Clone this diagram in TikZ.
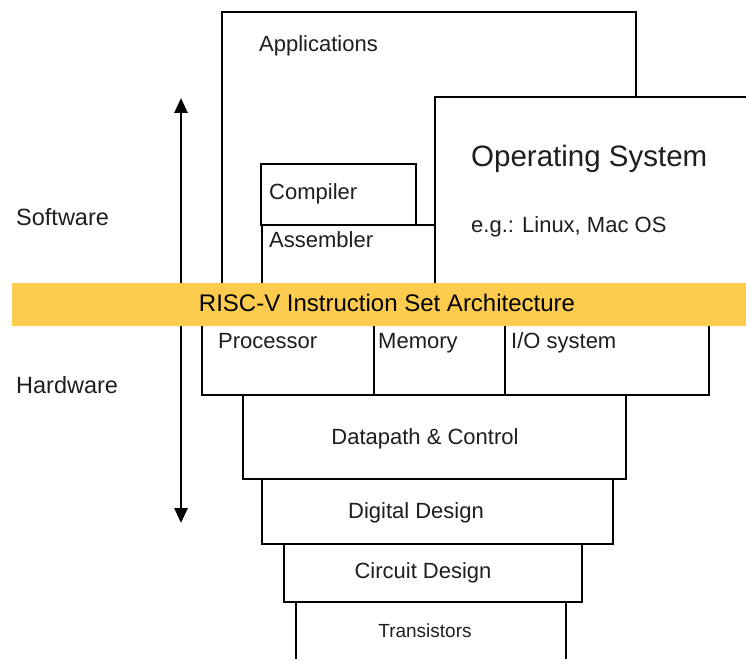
\documentclass[tikz,border=0pt]{standalone}
\usepackage{fontspec}
\setmainfont{Liberation Sans}
\usetikzlibrary{arrows.meta}
\definecolor{isayellow}{HTML}{FDCC4F}
\definecolor{inkgray}{HTML}{1E1E1E}
\begin{document}
\begin{tikzpicture}[x=1pt,y=-1pt,
  layer/.style={draw=black,fill=white,line width=2.9pt},
  lbl/.style={inner sep=0pt,anchor=base west,text=inkgray,font=\fontsize{22}{22}\selectfont},
  clbl/.style={inner sep=0pt,anchor=base,text=inkgray,font=\fontsize{22}{22}\selectfont},
  side/.style={inner sep=0pt,anchor=base west,text=inkgray,font=\fontsize{23.5}{23.5}\selectfont}]
\useasboundingbox (0,0) rectangle (746,658);

% software stack
\draw[layer] (222,12) rectangle (636,300);
\draw[layer] (435,97) rectangle (770,300);
\draw[layer] (262,225) rectangle (435,300);
\draw[layer] (261,164) rectangle (416,225);

% hardware stack
\draw[layer] (296,602) rectangle (566,680);
\draw[layer] (284,544) rectangle (582,602);
\draw[layer] (262,479) rectangle (613,544);
\draw[layer] (243,395) rectangle (626,479);
\draw[layer] (202,315) rectangle (709,395);
\draw[line width=2.9pt] (374,315) -- (374,395);
\draw[line width=2.9pt] (505,315) -- (505,395);

% software / hardware arrow, passing under the ISA band
\coordinate (top) at (181,98);
\coordinate (bot) at (181,523);
\draw[line width=2.7pt,{Triangle[width=13pt,length=15pt]}-{Triangle[width=13pt,length=15pt]}] (top) -- (bot);

% ISA band
\fill[isayellow] (12,283) rectangle (760,326);

% labels
\node[lbl] (apps) at (259,52) {Applications};
\node[lbl,font=\fontsize{29.5}{29.5}\selectfont] (os) at (471,166) {Operating System};
\node[lbl] (oseg) at (471,232) {e.g.: Linux, Mac OS};
\node[lbl] (comp) at (269,199) {Compiler};
\node[lbl] (asm) at (269,247) {Assembler};
\node[clbl,text=black,font=\fontsize{24}{24}\selectfont] (isa) at (387,311) {RISC-V Instruction Set Architecture};
\node[lbl] (proc) at (218,348) {Processor};
\node[lbl] (mem) at (378,348) {Memory};
\node[lbl] (io) at (511,348) {I/O system};
\node[clbl] (dp) at (425,444) {Datapath \& Control};
\node[clbl] (dd) at (416,518) {Digital Design};
\node[clbl] (cd) at (423,578) {Circuit Design};
\node[clbl,font=\fontsize{19}{19}\selectfont] (tr) at (425,637) {Transistors};
\node[side] (sw) at (16,225) {Software};
\node[side] (hw) at (16,393) {Hardware};
\end{tikzpicture}
\end{document}
